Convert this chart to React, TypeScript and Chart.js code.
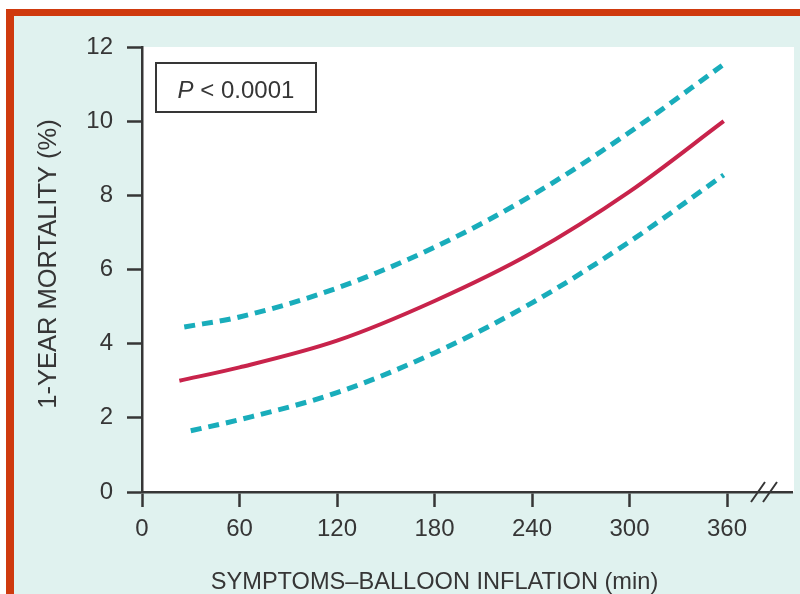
import { useEffect, useRef } from 'react';
import { Chart, registerables } from 'chart.js';

Chart.register(...registerables);

// Data
const estimateMinutes = [23, 60, 120, 180, 240, 300, 358];
const estimateMortality = [3.0, 3.36, 4.08, 5.15, 6.45, 8.1, 10.0];

const upperMinutes = [26, 60, 120, 180, 240, 300, 357];
const upperMortality = [4.45, 4.72, 5.5, 6.6, 8.0, 9.7, 11.5];

const lowerMinutes = [30, 60, 120, 180, 240, 300, 358];
const lowerMortality = [1.65, 1.95, 2.68, 3.75, 5.1, 6.75, 8.55];

const xTickStep = 60;
const xTickMax = 360;
const xAxisMax = 400;
const yAxisMax = 12;
const yTickStep = 2;

const pValueLabel = '< 0.0001';
const xTitle = 'SYMPTOMS\u2013BALLOON INFLATION (min)';
const yTitle = '1-YEAR MORTALITY (%)';

const FONT = '"Liberation Sans", Arial, Helvetica, sans-serif';
const DARK = '#363636';
const RED = '#c8234b';
const TEAL = '#19adbb';

const toPoints = (xs: number[], ys: number[]) => xs.map((x, i) => ({ x, y: ys[i] }));

const decorPlugin = {
  id: 'decor',
  beforeDraw(chart: any) {
    const { ctx, width, height, chartArea } = chart;
    ctx.save();
    ctx.fillStyle = '#ffffff';
    ctx.fillRect(0, 0, width, height);
    ctx.fillStyle = '#cf3a0e';
    ctx.fillRect(6, 9, width - 6, height - 9);
    ctx.fillStyle = '#e0f2ef';
    ctx.fillRect(14, 16, width - 14, height - 16);
    ctx.fillStyle = '#ffffff';
    ctx.fillRect(chartArea.left, chartArea.top, chartArea.right - chartArea.left + 2, chartArea.bottom - chartArea.top);
    ctx.restore();
  },
  afterDraw(chart: any) {
    const { ctx, chartArea, scales } = chart;
    const x = scales.x;
    ctx.save();
    // axis break marks
    const by = chartArea.bottom;
    const bx = x.getPixelForValue(xTickMax) + 26;
    ctx.strokeStyle = DARK;
    ctx.lineWidth = 2;
    ctx.beginPath();
    ctx.moveTo(bx - 2, by + 10);
    ctx.lineTo(bx + 12, by - 10);
    ctx.moveTo(bx + 10, by + 10);
    ctx.lineTo(bx + 24, by - 10);
    ctx.stroke();

    // P value box
    ctx.fillStyle = '#ffffff';
    ctx.fillRect(156, 63, 160, 49);
    ctx.strokeStyle = DARK;
    ctx.lineWidth = 2;
    ctx.strokeRect(156, 63, 160, 49);
    ctx.fillStyle = DARK;
    ctx.textBaseline = 'alphabetic';
    ctx.textAlign = 'left';
    ctx.font = `italic 24px ${FONT}`;
    const pW = ctx.measureText('P').width;
    const restFont = `24px ${FONT}`;
    ctx.font = restFont;
    const restW = ctx.measureText(' ' + pValueLabel).width;
    const start = 236 - (pW + restW) / 2;
    ctx.font = `italic 24px ${FONT}`;
    ctx.fillText('P', start, 98);
    ctx.font = restFont;
    ctx.fillText(' ' + pValueLabel, start + pW, 98);

    // axis titles
    ctx.font = `23.6px ${FONT}`;
    ctx.textAlign = 'center';
    const x0 = x.getPixelForValue(0);
    const x1 = x.getPixelForValue(xTickMax);
    ctx.fillText(xTitle, (x0 + x1) / 2, 589);

    ctx.translate(56, 264);
    ctx.rotate(-Math.PI / 2);
    ctx.font = `25.5px ${FONT}`;
    ctx.fillText(yTitle, 0, 0);
    ctx.restore();
  },
};

export default function App() {
  const canvasRef = useRef<HTMLCanvasElement | null>(null);

  useEffect(() => {
    const canvas = canvasRef.current;
    if (!canvas) return;
    const dashed = {
      borderColor: TEAL,
      borderWidth: 5,
      borderDash: [11, 7],
      borderCapStyle: 'butt' as const,
      pointRadius: 0,
      cubicInterpolationMode: 'monotone' as const,
      fill: false,
    };
    const chart = new Chart(canvas, {
      type: 'line',
      data: {
        datasets: [
          { label: 'Upper 95% CI', data: toPoints(upperMinutes, upperMortality), ...dashed },
          { label: 'Lower 95% CI', data: toPoints(lowerMinutes, lowerMortality), ...dashed },
          {
            label: 'Estimate',
            data: toPoints(estimateMinutes, estimateMortality),
            borderColor: RED,
            borderWidth: 4,
            pointRadius: 0,
            cubicInterpolationMode: 'monotone',
            fill: false,
          },
        ],
      },
      options: {
        animation: false,
        responsive: false,
        maintainAspectRatio: false,
        layout: { padding: { top: 47, right: 8, left: 0, bottom: 0 } },
        plugins: {
          legend: { display: false },
          tooltip: { enabled: false },
          title: { display: false },
        },
        scales: {
          x: {
            type: 'linear',
            min: 0,
            max: xAxisMax,
            afterBuildTicks: (scale: any) => {
              scale.ticks = scale.ticks.filter((t: any) => t.value <= xTickMax);
            },
            afterFit: (scale: any) => {
              scale.height = 102;
            },
            ticks: {
              stepSize: xTickStep,
              color: DARK,
              padding: 8,
              font: { family: FONT, size: 24 },
              maxRotation: 0,
            },
            grid: {
              drawOnChartArea: false,
              drawTicks: true,
              tickLength: 15,
              tickWidth: 2.5,
              tickColor: DARK,
            },
            border: { display: true, color: DARK, width: 2.5 },
          },
          y: {
            type: 'linear',
            min: 0,
            max: yAxisMax,
            afterFit: (scale: any) => {
              scale.width = 142;
            },
            ticks: {
              stepSize: yTickStep,
              color: DARK,
              padding: 14,
              font: { family: FONT, size: 24 },
            },
            grid: {
              drawOnChartArea: false,
              drawTicks: true,
              tickLength: 15,
              tickWidth: 2.5,
              tickColor: DARK,
            },
            border: { display: true, color: DARK, width: 2.5 },
          },
        },
      },
      plugins: [decorPlugin],
    });
    return () => chart.destroy();
  }, []);

  return (
    <div style={{ position: 'absolute', left: 0, top: 0, width: 800, height: 594 }}>
      <canvas ref={canvasRef} width={800} height={594} style={{ display: 'block', width: 800, height: 594 }} />
    </div>
  );
}
